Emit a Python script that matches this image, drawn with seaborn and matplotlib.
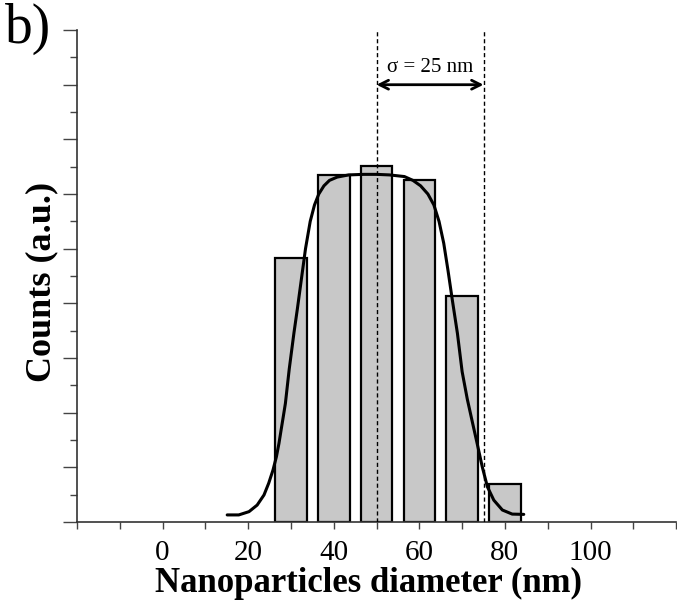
import matplotlib
matplotlib.use("Agg")
import matplotlib.pyplot as plt
import seaborn as sns
import numpy as np

# ---- data ----
bin_centers = [30, 40, 50, 60, 70, 80]
bin_counts = [9.67, 12.7, 13.04, 12.5, 8.28, 1.39]

fit_x = [15.1, 17.8, 20.2, 22.1, 23.7, 24.8, 25.8, 26.6, 27.2, 27.7, 28.2, 28.7,
         29.6, 30.7, 31.5, 32.2, 33.4, 34.5, 35.5, 36.5, 37.7, 39.0, 40.8, 43.5,
         47.0, 50.0, 53.0, 56.5, 58.5, 60.3, 62.0, 63.4, 64.6, 65.7, 66.7, 67.7,
         68.9, 70.0, 71.2, 72.4, 73.5, 74.7, 75.9, 77.4, 79.4, 81.7, 84.4]
fit_y = [0.26, 0.26, 0.38, 0.62, 0.99, 1.42, 1.90, 2.39, 2.88, 3.37, 3.85, 4.34,
         5.60, 6.92, 7.80, 8.61, 10.0, 11.0, 11.6, 12.0, 12.3, 12.5, 12.62, 12.7,
         12.72, 12.72, 12.7, 12.64, 12.5, 12.3, 12.0, 11.6, 11.0, 10.2, 9.2, 8.13,
         6.9, 5.5, 4.5, 3.65, 2.88, 2.02, 1.29, 0.80, 0.44, 0.29, 0.28]

sigma_lines = [50, 75]
sigma_label = "σ = 25 nm"
xtick_vals = [0, 20, 40, 60, 80, 100]

sns.set_theme(style="ticks")
plt.rcParams["font.family"] = ["Liberation Serif", "DejaVu Serif"]
plt.rcParams["text.color"] = "black"
plt.rcParams["axes.labelcolor"] = "black"
plt.rcParams["xtick.labelcolor"] = "black"

fig = plt.figure(figsize=(6.77, 6.01), dpi=100)
ax = fig.add_axes([0.1137, 0.1314, 0.885, 0.8186])

sns.barplot(x=bin_centers, y=bin_counts, native_scale=True, width=0.74,
            color="#c8c8c8", edgecolor="black", linewidth=1.6, saturation=1,
            ax=ax, zorder=2)
sns.lineplot(x=fit_x, y=fit_y, sort=False, estimator=None, color="black",
             linewidth=2.2, ax=ax, zorder=4)

for xv in sigma_lines:
    ax.axvline(xv, color="black", linestyle=(0, (3, 2)), linewidth=1.0, zorder=3)

ax.annotate("", xy=(sigma_lines[0], 16.0), xytext=(sigma_lines[1], 16.0),
            arrowprops=dict(arrowstyle="<->", color="black", lw=2.0,
                            mutation_scale=16, shrinkA=0, shrinkB=0))
ax.text(sum(sigma_lines) / 2, 16.3, sigma_label, ha="center", va="bottom",
        fontsize=15, color="black")

ax.set_xlim(-20, 120)
ax.set_ylim(0, 18)
ax.set_xticks(xtick_vals)
ax.set_xticklabels([str(v) for v in xtick_vals], fontsize=21, color="black")
ax.set_xticks([-20, -10, 10, 30, 50, 70, 90, 110, 120], minor=True)
ax.set_yticks(np.arange(0, 19, 2))
ax.set_yticks(np.arange(1, 18, 2), minor=True)
ax.set_yticklabels([])

ax.tick_params(axis="x", which="both", length=5, width=1, color="#444444",
               pad=8, direction="out")
ax.tick_params(axis="y", which="major", length=10, width=1, color="#444444",
               direction="out")
ax.tick_params(axis="y", which="minor", length=5, width=1, color="#444444",
               direction="out")

for s in ["top", "right"]:
    ax.spines[s].set_visible(False)
for s in ["left", "bottom"]:
    ax.spines[s].set_color("#333333")
    ax.spines[s].set_linewidth(1.2)

ax.set_xlabel("Nanoparticles diameter (nm)", fontsize=25, fontweight="bold",
              labelpad=0.5, x=0.4867, color="black")
ax.set_ylabel("Counts (a.u.)", fontsize=26, fontweight="bold", labelpad=0,
              y=0.489, color="black")

fig.text(0.008, 1 - 43 / 601, "b)", fontsize=40, ha="left", va="baseline",
         color="black")

fig.savefig("out.png", dpi=100)
